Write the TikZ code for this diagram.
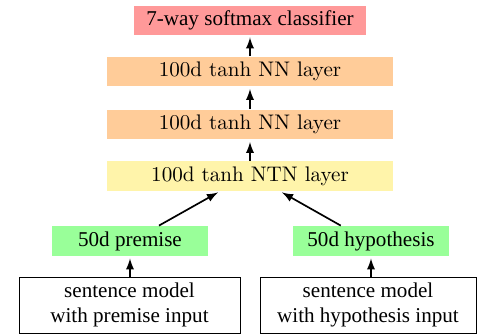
\documentclass[tikz,border=0pt]{standalone}
\usepackage{fontspec}
\newfontfamily\timesfont{Liberation Serif}
\usepackage{tikz}
\usetikzlibrary{arrows}
\definecolor{softmaxred}{RGB}{255,153,153}
\definecolor{layerorange}{RGB}{255,204,153}
\definecolor{ntnyellow}{RGB}{255,244,170}
\definecolor{vecgreen}{RGB}{153,255,153}
\tikzset{
    box/.style={inner sep=0pt, minimum height=14.2pt, font=\rmfamily},
    softmax/.style={box, fill=softmaxred, minimum width=110pt,
        minimum height=13.7pt, font=\timesfont},
    nnlayer/.style={box, fill=layerorange, minimum width=135.6pt},
    ntnlayer/.style={box, fill=ntnyellow, minimum width=135.6pt},
    sentvec/.style={box, fill=vecgreen, minimum width=74pt, font=\timesfont},
    sentmodel/.style={draw=black, inner sep=0pt, minimum height=26.5pt,
        align=center, font=\timesfont},
    feed/.style={-latex, line width=0.8pt, shorten >=1pt}
}

\begin{document}
\begin{tikzpicture}[x=0.474pt, y=-0.474pt]
\useasboundingbox (0,0) rectangle (479,336);
% layers, top to bottom
\node[softmax] (softmax) at (250,20.5) {7-way softmax classifier};
\node[nnlayer] (nn2) at (250,71.5) {100d $\tanh$ NN layer};
\node[nnlayer] (nn1) at (250,124.5) {100d $\tanh$ NN layer};
\node[ntnlayer] (ntn) at (250,176) {100d $\tanh$ NTN layer};
\node[sentvec] (prem) at (130,241) {50d premise};
\node[sentvec] (hyp) at (371,241) {50d hypothesis};
\node[sentmodel, minimum width=104.8pt] (premmodel) at (129.5,305)
    {sentence model\\with premise input};
\node[sentmodel, minimum width=102.4pt] (hypmodel) at (368,305)
    {sentence model\\with hypothesis input};
% connections
\draw[style={feed}] (prem.south |- premmodel.north) -- (prem.south);
\draw[style={feed}] (hyp.south |- hypmodel.north) -- (hyp.south);
\draw[style={feed}] (prem.28) -- (ntn.207);
\draw[style={feed}] (hyp.153) -- (ntn.333);
\draw[style={feed}] (ntn) -- (nn1);
\draw[style={feed}] (nn1) -- (nn2);
\draw[style={feed}] (nn2) -- (softmax);
\end{tikzpicture}
\end{document}
